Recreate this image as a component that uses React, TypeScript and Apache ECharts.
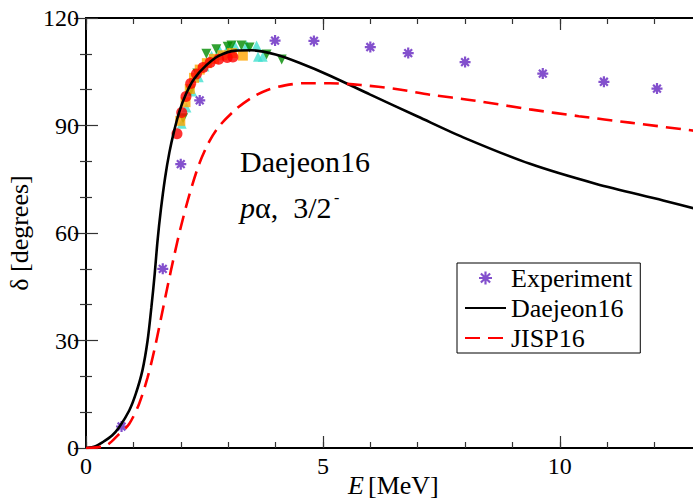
import React, { useEffect, useRef } from "react";
import * as echarts from "echarts";

// Experiment (purple asterisks)
const expE = [0.75, 1.62, 2.0, 2.4, 3.99, 4.81, 6.0, 6.8, 8.0, 9.64, 10.93, 12.05];
const expDelta = [6.0, 50.0, 79.2, 97.0, 113.7, 113.6, 111.9, 110.2, 107.7, 104.5, 102.2, 100.3];

// Other experimental data sets (cluster near the resonance)
const redE = [1.92, 2.02, 2.11, 2.21, 2.33, 2.47, 2.62, 2.8, 2.98, 3.1];
const redDelta = [87.7, 93.6, 98.1, 101.7, 104.4, 106.2, 107.6, 108.5, 109.0, 109.1];

const orangeE = [1.99, 2.1, 2.19, 2.28, 2.4, 2.55, 2.7, 2.88, 3.08, 3.31];
const orangeDelta = [91.3, 96.5, 100.2, 103.3, 105.6, 107.4, 108.6, 109.6, 110.2, 109.5];

const turqE = [2.02, 2.12, 2.24, 2.38, 2.5, 2.65, 2.82, 3.0, 3.14, 3.39, 3.6, 3.63, 3.73];
const turqDelta = [90.5, 95.0, 99.5, 103.5, 106.5, 109.5, 111.0, 111.8, 112.3, 112.3, 112.3, 109.2, 109.2];

const greenE = [2.05, 2.2, 2.35, 2.54, 2.75, 2.99, 3.07, 3.28, 3.45, 3.81, 4.13];
const greenDelta = [92.0, 99.5, 104.5, 110.0, 111.3, 112.0, 112.3, 112.3, 111.8, 109.8, 108.4];

// Daejeon16 (solid black)
const dE = [0, 0.2, 0.35, 0.55, 0.7, 0.91, 1.05, 1.19, 1.3, 1.38, 1.45, 1.51, 1.58, 1.67, 1.76, 1.86, 1.97, 2.11, 2.28, 2.53, 2.81, 3.16, 3.5, 4.0, 4.5, 5.15, 6.0, 7.0, 7.96, 9.37, 10.77, 12.18, 13.0];
const dDelta = [0, 0.5, 1.6, 3.5, 5.8, 10.4, 15.1, 21.6, 30.0, 39.3, 48.6, 57.9, 66.5, 75.5, 82.5, 88.5, 93.9, 98.8, 103.0, 106.7, 109.5, 110.9, 111.0, 109.8, 107.5, 103.9, 98.6, 92.5, 86.7, 79.3, 73.7, 69.1, 66.3];

// JISP16 (dashed red)
const jE = [0, 0.42, 0.7, 0.91, 1.12, 1.3, 1.44, 1.58, 1.72, 1.86, 2.0, 2.18, 2.39, 2.6, 2.81, 3.16, 3.5, 3.83, 4.2, 4.6, 5.15, 5.8, 6.54, 7.26, 8.18, 9.37, 10.4, 11.48, 12.8, 13.0];
const jDelta = [0, 0.65, 3.9, 6.7, 12.3, 19.7, 27.2, 36.0, 45.0, 53.6, 61.6, 70.6, 79.3, 85.5, 89.8, 94.5, 97.8, 99.9, 101.2, 101.8, 101.8, 101.3, 100.2, 98.6, 97.0, 94.5, 92.6, 90.8, 88.6, 88.3];

const xTickLabels = ["0", "5", "10"];
const yTickLabels = ["0", "30", "60", "90", "120"];

const FONT = "Liberation Serif";

export default function App() {
  const ref = useRef<HTMLDivElement>(null);

  useEffect(() => {
    const chart = echarts.init(ref.current as HTMLDivElement, null, { renderer: "svg" });
    const pair = (xs: number[], ys: number[]) => xs.map((x, i) => [x, ys[i]]);
    const star = "path://M0,-6L0,6M-6,0L6,0M-4.24,-4.24L4.24,4.24M-4.24,4.24L4.24,-4.24";
    const purple = "#6424c0";

    const xBase = (pos: "top" | "bottom", major: boolean, labels: boolean) => ({
      type: "value",
      position: pos,
      min: 0,
      max: 13,
      interval: major ? 5 : 1,
      gridIndex: 0,
      axisLine: { show: major, lineStyle: { color: "#000", width: 2 } },
      axisTick: { show: true, inside: true, length: major ? 12 : 6, lineStyle: { color: "#333", width: 1.2 } },
      splitLine: { show: false },
      axisLabel: labels
        ? {
            show: true,
            margin: 6,
            fontFamily: FONT,
            fontSize: 24,
            color: "#000",
            showMaxLabel: false,
            formatter: (v: number) => (xTickLabels.includes(String(v)) ? String(v) : ""),
          }
        : { show: false },
    });

    const yBase = (pos: "left" | "right", labels: boolean) => ({
      type: "value",
      position: pos,
      min: 0,
      max: 120,
      interval: 30,
      axisLine: { show: true, lineStyle: { color: "#000", width: 2 } },
      axisTick: { show: true, inside: true, length: 12, lineStyle: { color: "#333", width: 1.2 } },
      minorTick: { show: true, splitNumber: 3, length: 6, lineStyle: { color: "#333", width: 1.2 } },
      splitLine: { show: false },
      axisLabel: labels
        ? {
            show: true,
            margin: 7,
            fontFamily: FONT,
            fontSize: 24,
            color: "#000",
            formatter: (v: number) => (yTickLabels.includes(String(v)) ? String(v) : ""),
          }
        : { show: false },
    });

    const xAxes: any[] = [
      xBase("bottom", true, true),
      xBase("bottom", false, false),
      xBase("top", true, false),
      xBase("top", false, false),
    ];

    const yAxes: any[] = [
      {
        ...yBase("left", true),
        name: "δ [degrees]",
        nameLocation: "middle",
        nameGap: 52,
        nameTextStyle: { fontFamily: FONT, fontSize: 26, color: "#000" },
      },
      yBase("right", false),
    ];

    const hiddenSym = { color: "rgba(0,0,0,0)", borderColor: "rgba(0,0,0,0)", borderWidth: 0 };

    chart.setOption({
      animation: false,
      backgroundColor: "#fff",
      grid: { left: 86, right: -9, top: 18, bottom: 51, outerBoundsMode: "none" },
      xAxis: xAxes,
      yAxis: yAxes,
      legend: {
        left: 457,
        top: 263,
        orient: "vertical",
        backgroundColor: "#fff",
        borderColor: "#000",
        borderWidth: 1,
        borderRadius: 0,
        padding: [2, 8, 2, 7],
        itemGap: 4,
        itemWidth: 41,
        itemHeight: 13,
        textStyle: { fontFamily: FONT, fontSize: 26, color: "#000" },
        data: [
          { name: "Experiment", icon: star, itemStyle: { color: "rgba(0,0,0,0)", borderColor: purple, borderWidth: 2.2 } },
          { name: "Daejeon16", itemStyle: hiddenSym },
          { name: "JISP16", itemStyle: hiddenSym },
        ],
      },
      graphic: [
        { type: "text", left: 240, top: 146, style: { text: "Daejeon16", fontFamily: FONT, fontSize: 30, fill: "#000" } },
        { type: "text", left: 240, top: 192, style: { text: "p", fontFamily: FONT, fontStyle: "italic", fontSize: 30, fill: "#000" } },
        { type: "text", left: 255, top: 192, style: { text: "α,  3/2", fontFamily: FONT, fontSize: 30, fill: "#000" } },
        { type: "text", left: 334, top: 189, style: { text: "-", fontFamily: FONT, fontSize: 16, fill: "#000" } },
        { type: "text", left: 348, top: 472, style: { text: "E", fontFamily: FONT, fontStyle: "italic", fontSize: 26, fill: "#000" } },
        { type: "text", left: 368, top: 472, style: { text: "[MeV]", fontFamily: FONT, fontSize: 26, fill: "#000" } },
      ],
      series: [
        {
          name: "set4",
          type: "scatter",
          data: pair(turqE, turqDelta),
          symbol: "triangle",
          symbolSize: 10,
          itemStyle: { color: "#40e0d0" },
        },
        {
          name: "set5",
          type: "scatter",
          data: pair(greenE, greenDelta),
          symbol: "triangle",
          symbolRotate: 180,
          symbolSize: 10,
          itemStyle: { color: "#008b00" },
        },
        {
          name: "set3",
          type: "scatter",
          data: pair(orangeE, orangeDelta),
          symbol: "rect",
          symbolSize: 10,
          itemStyle: { color: "#ffa500" },
        },
        {
          name: "set2",
          type: "scatter",
          data: pair(redE, redDelta),
          symbol: "circle",
          symbolSize: 11,
          itemStyle: { color: "#ff0000" },
        },
        {
          name: "Experiment",
          type: "scatter",
          data: pair(expE, expDelta),
          symbol: star,
          symbolSize: 11,
          itemStyle: { color: "rgba(0,0,0,0)", borderColor: purple, borderWidth: 2.2 },
        },
        {
          name: "Daejeon16",
          type: "line",
          data: pair(dE, dDelta),
          symbol: "none",
          smooth: 0.3,
          lineStyle: { color: "#000", width: 2.6 },
          itemStyle: { color: "#000" },
        },
        {
          name: "JISP16",
          type: "line",
          data: pair(jE, jDelta),
          symbol: "none",
          smooth: 0.3,
          lineStyle: { color: "#ff0000", width: 2.6, type: [15, 8] },
          itemStyle: { color: "#ff0000" },
        },
      ],
    });

    return () => chart.dispose();
  }, []);

  return <div ref={ref} style={{ position: "absolute", left: 0, top: 0, width: 693, height: 499 }} />;
}
